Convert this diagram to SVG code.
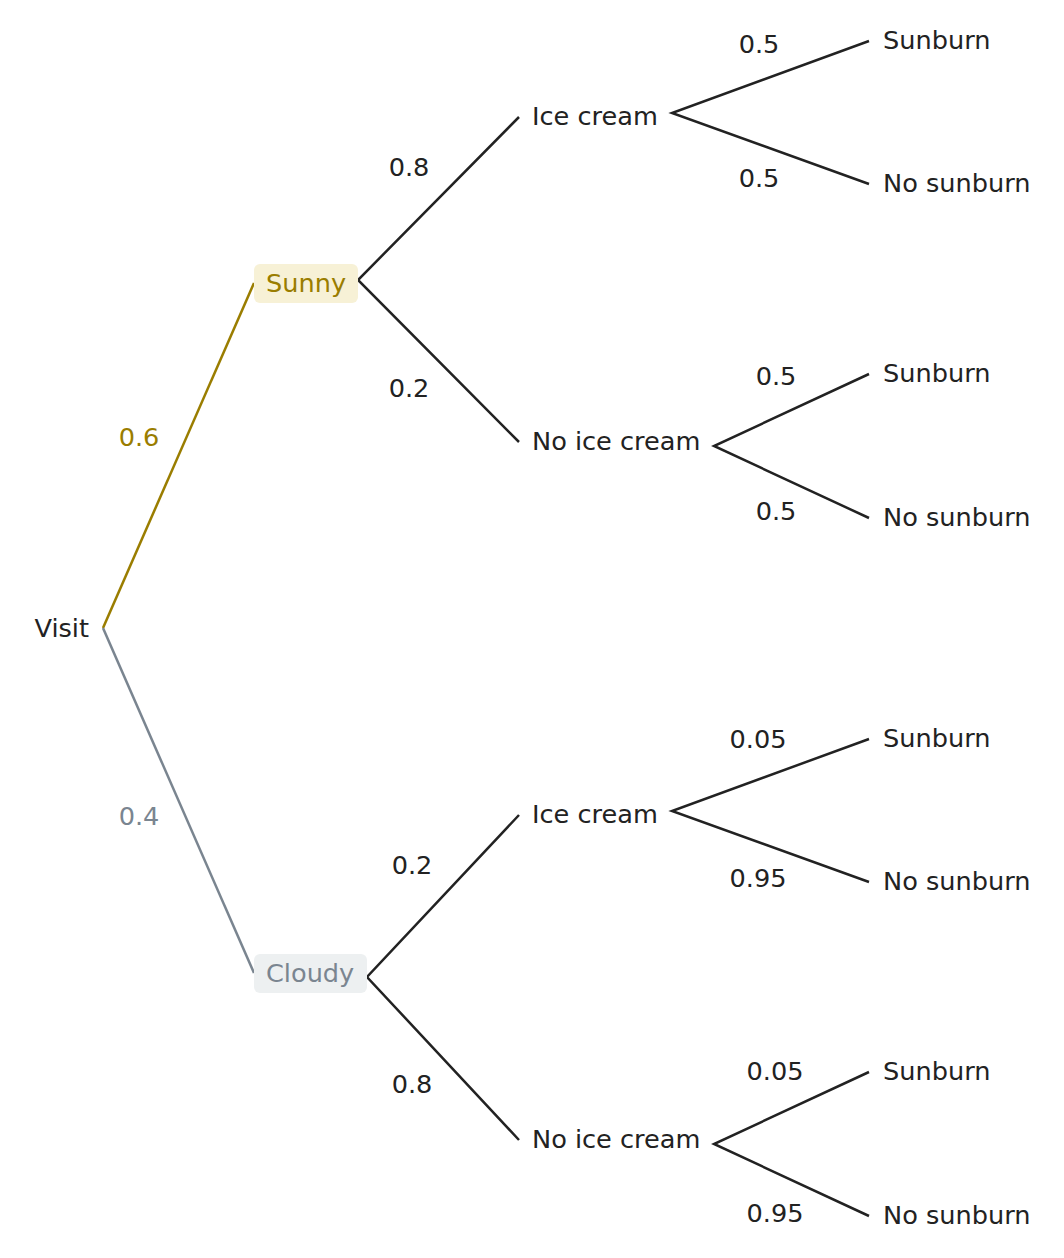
<svg xmlns="http://www.w3.org/2000/svg" width="1064" height="1258" viewBox="0 0 1064 1258">
<style>
text{font-family:"DejaVu Sans","Liberation Sans",sans-serif;font-size:25.6px;fill:#222222}
.lbl{text-anchor:middle}
.edge{fill:none;stroke:#222222;stroke-width:2.5}
.gold{stroke:#9a7d00}
.grey{stroke:#7a8590}
text.gold{fill:#9a7d00;stroke:none}
text.grey{fill:#7a8590;stroke:none}
</style>
<rect width="1064" height="1258" fill="#ffffff"/>
<g id="connectors">
<path class="edge gold" d="M103,628 L254,283"/>
<path class="edge grey" d="M103,628 L254,973"/>
<path class="edge" d="M519,117 L358,280 L519,442"/>
<path class="edge" d="M869,41 L672,113 L869,184"/>
<path class="edge" d="M869,374 L714,446 L869,518"/>
<path class="edge" d="M519,815 L367,977 L519,1140"/>
<path class="edge" d="M869,739 L672,811 L869,882"/>
<path class="edge" d="M869,1072 L714,1144 L869,1216"/>
<text class="lbl gold" x="139" y="446">0.6</text>
<text class="lbl grey" x="139" y="825">0.4</text>
<text class="lbl" x="409" y="176">0.8</text>
<text class="lbl" x="409" y="397">0.2</text>
<text class="lbl" x="412" y="874">0.2</text>
<text class="lbl" x="412" y="1093">0.8</text>
<text class="lbl" x="759" y="53">0.5</text>
<text class="lbl" x="759" y="187">0.5</text>
<text class="lbl" x="776" y="385">0.5</text>
<text class="lbl" x="776" y="520">0.5</text>
<text class="lbl" x="758" y="748">0.05</text>
<text class="lbl" x="758" y="887">0.95</text>
<text class="lbl" x="775" y="1080">0.05</text>
<text class="lbl" x="775" y="1222">0.95</text>
</g>
<g id="visit"><text x="89" y="637" text-anchor="end">Visit</text></g>
<g id="sunny"><rect x="254" y="264" width="104" height="39" rx="6" fill="#f7f1d6"/><text class="gold" x="266" y="292">Sunny</text></g>
<g id="cloudy"><rect x="254" y="954" width="113" height="39" rx="6" fill="#edf0f1"/><text class="grey" x="266" y="982">Cloudy</text></g>
<g id="sunny-ice"><text x="532" y="125">Ice cream</text></g>
<g id="sunny-noice"><text x="532" y="450">No ice cream</text></g>
<g id="cloudy-ice"><text x="532" y="823">Ice cream</text></g>
<g id="cloudy-noice"><text x="532" y="1148">No ice cream</text></g>
<g id="s1"><text x="883" y="49">Sunburn</text></g>
<g id="s2"><text x="883" y="192">No sunburn</text></g>
<g id="s3"><text x="883" y="382">Sunburn</text></g>
<g id="s4"><text x="883" y="526">No sunburn</text></g>
<g id="s5"><text x="883" y="747">Sunburn</text></g>
<g id="s6"><text x="883" y="890">No sunburn</text></g>
<g id="s7"><text x="883" y="1080">Sunburn</text></g>
<g id="s8"><text x="883" y="1224">No sunburn</text></g>
</svg>
